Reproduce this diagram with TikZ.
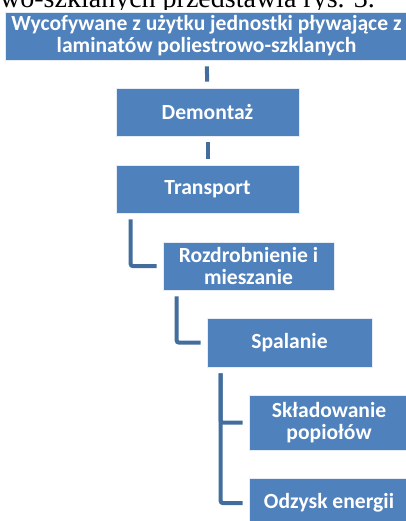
\documentclass[tikz,border=0pt]{standalone}
\usepackage{fontspec}
\setmainfont{Carlito}
\newfontfamily\bodyserif{Liberation Serif}
\usetikzlibrary{positioning}
\definecolor{stageblue}{RGB}{79,129,189}
\definecolor{linkblue}{RGB}{66,109,157}

\begin{document}
\begin{tikzpicture}[
  x=1pt,y=-1pt,
  every node/.style={font=\bfseries\fontsize{21.6}{22}\selectfont},
  stage/.style={draw=white!85!stageblue,line width=.6pt,fill=stageblue,
                text=white,align=center,inner sep=0pt},
  link/.style={draw=linkblue,line width=4pt,shorten <=6pt,shorten >=6pt},
  elbow/.style={link,rounded corners=2pt}
]
\useasboundingbox (0,0) rectangle (406,521);
\clip (0,0) rectangle (406,521);

% text of the page above the figure, cut off
\begin{scope}
\clip (0,0) rectangle (406,10);
\node[font=\bodyserif\fontsize{28}{32}\selectfont,anchor=base west,
      inner sep=0pt] (pagetext) at (0,8) {wo-szklanych przedstawia rys. 3.};
\end{scope}

\node[stage,minimum width=403pt,minimum height=48pt] (waste) at (206.5,36)
  {Wycofywane z użytku jednostki pływające z\\laminatów poliestrowo-szklanych};
\node[stage,minimum width=183pt,minimum height=48pt] (dismantle) at (207.5,112) {Demontaż};
\node[stage,minimum width=183pt,minimum height=48pt] (transport) at (207.5,189) {Transport};
\node[stage,minimum width=171pt,minimum height=48pt] (shred) at (248.5,266)
  {Rozdrobnienie i\\mieszanie};
\node[stage,minimum width=165pt,minimum height=49pt] (burn) at (289.5,342.5) {Spalanie};
\node[stage,minimum width=160pt,minimum height=55pt] (ashes) at (329,422.5)
  {Składowanie\\popiołów};
\node[stage,minimum width=160pt,minimum height=50pt] (energy) at (329,503) {Odzysk energii};

\draw[link] (waste) -- (dismantle);
\draw[link] (dismantle) -- (transport);
\draw[elbow] ([xshift=15pt]transport.south west) |- (shred.west);
\draw[elbow] ([xshift=14pt]shred.south west) |- (burn.west);
\draw[elbow] ([xshift=14pt]burn.south west) |- (ashes.west);
\draw[elbow] ([xshift=14pt]burn.south west) |- (energy.west);
\end{tikzpicture}
\end{document}
